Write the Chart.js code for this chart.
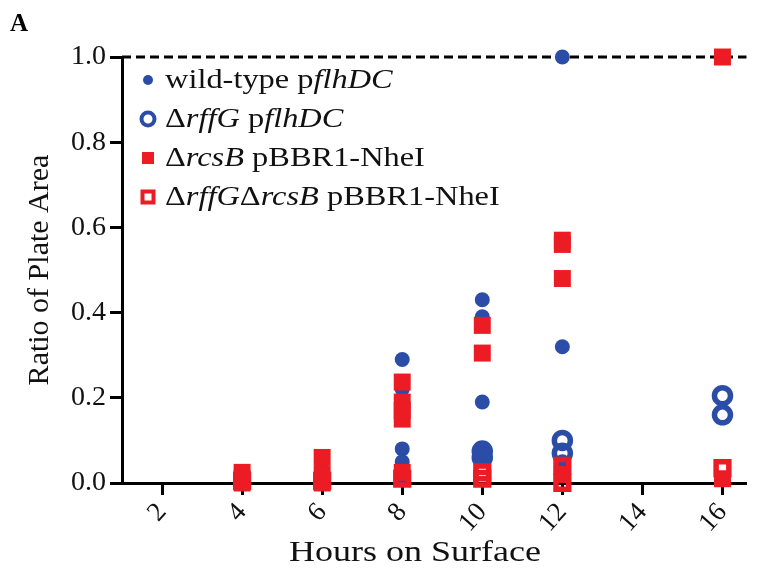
<!DOCTYPE html>
<html>
<head>
<meta charset="utf-8">
<script src="https://cdn.jsdelivr.net/npm/chart.js@4"></script>
<style>
  body { margin: 0; background: #fff; }
</style>
</head>
<body>
<canvas id="chartPic" width="761" height="573"></canvas>
<script>
// values
const xTicks = [2, 4, 6, 8, 10, 12, 14, 16];
const yTicks = [0, 0.2, 0.4, 0.6, 0.8, 1.0];

const wtHours  = [4, 6, 6, 8, 8, 8, 8, 8, 10, 10, 10, 10, 10, 12, 12, 12];
const wtRatio  = [0.0, 0.03, 0.01, 0.29, 0.22, 0.08, 0.05, 0.01, 0.43, 0.39, 0.19, 0.08, 0.06, 1.0, 0.32, 0.05];

const rffHours = [10, 10, 12, 12, 16, 16];
const rffRatio = [0.075, 0.06, 0.10, 0.07, 0.205, 0.16];

const rcsHours = [4, 4, 4, 6, 6, 6, 8, 8, 8, 8, 8, 10, 10, 12, 12, 12, 12, 16, 16];
const rcsRatio = [0.025, 0.01, 0.0, 0.06, 0.02, 0.0, 0.237, 0.19, 0.17, 0.15, 0.025, 0.37, 0.305, 0.57, 0.56, 0.48, 0.02, 1.0, 0.01];

const dblHours = [4, 6, 8, 10, 10, 12, 12, 16];
const dblRatio = [0.005, 0.005, 0.01, 0.025, 0.01, 0.04, 0.0, 0.035];

const fullLine = [1.0, 1.0];

const blue = '#2B4DA8';
const red = '#EC1C24';
const serif = "'Liberation Serif', 'DejaVu Serif', serif";

function pts(xs, ys) {
    return xs.map(function (x, i) { return {x: x, y: ys[i]}; });
}

const legendRows = [
    {style: 'dot', parts: [['wild-type p', 0], ['flhDC', 1]]},
    {style: 'ring', parts: [['\u0394', 0], ['rffG', 1], [' p', 0], ['flhDC', 1]]},
    {style: 'box', parts: [['\u0394', 0], ['rcsB', 1], [' pBBR1-NheI', 0]]},
    {style: 'openbox', parts: [['\u0394', 0], ['rffG', 1], ['\u0394', 0], ['rcsB', 1], [' pBBR1-NheI', 0]]}
];

// draws text a little wider than tall, like the figure
function wideText(ctx, parts, x, y, size, align) {
    ctx.save();
    ctx.textBaseline = 'middle';
    let total = 0;
    parts.forEach(function (p) {
        ctx.font = (p[1] ? 'italic ' : '') + size + 'px ' + serif;
        total += ctx.measureText(p[0]).width;
    });
    ctx.translate(x, y);
    ctx.scale(1.2, 1);
    let cx = align === 'center' ? -total / 2 : 0;
    parts.forEach(function (p) {
        ctx.font = (p[1] ? 'italic ' : '') + size + 'px ' + serif;
        ctx.fillText(p[0], cx, 0);
        cx += ctx.measureText(p[0]).width;
    });
    ctx.restore();
}

const legendPlugin = {
    id: 'richLegend',
    afterDraw: function (chart) {
        const ctx = chart.ctx;
        ctx.save();
        // panel letter
        ctx.fillStyle = '#000';
        ctx.font = 'bold 25px ' + serif;
        ctx.textBaseline = 'alphabetic';
        ctx.fillText('A', 10, 31);

        ctx.fillStyle = '#111';
        wideText(ctx, [['Hours on Surface', 0]], 415, 553, 30, 'center');

        const rowY = [80, 119, 158, 197];
        legendRows.forEach(function (row, i) {
            const y = rowY[i];
            const mx = 148;
            ctx.lineWidth = 4;
            if (row.style === 'dot') {
                ctx.fillStyle = blue;
                ctx.beginPath(); ctx.arc(mx, y, 5, 0, Math.PI * 2); ctx.fill();
            } else if (row.style === 'ring') {
                ctx.strokeStyle = blue;
                ctx.beginPath(); ctx.arc(mx, y, 6.5, 0, Math.PI * 2); ctx.stroke();
            } else if (row.style === 'box') {
                ctx.fillStyle = red;
                ctx.fillRect(mx - 6, y - 6, 12, 12);
            } else {
                ctx.strokeStyle = red;
                ctx.strokeRect(mx - 5.5, y - 5.5, 11, 11);
            }
            ctx.fillStyle = '#111';
            wideText(ctx, row.parts, 165, y + 1, 27, 'left');
        });
        ctx.restore();
    }
};

const ctx = document.getElementById('chartPic');
const myChart = new Chart(ctx, {
    type: 'scatter',
    data: {
        datasets: [
            {
                label: '\u0394rffG\u0394rcsB pBBR1-NheI',
                data: pts(dblHours, dblRatio),
                pointStyle: 'rect',
                pointRadius: 9,
                pointHoverRadius: 9,
                backgroundColor: 'rgba(0,0,0,0)',
                borderColor: red,
                borderWidth: 5.5,
                order: 0
            },
            {
                label: '\u0394rcsB pBBR1-NheI',
                data: pts(rcsHours, rcsRatio),
                pointStyle: 'rect',
                pointRadius: 12,
                pointHoverRadius: 12,
                backgroundColor: red,
                borderColor: red,
                borderWidth: 0,
                order: 1
            },
            {
                label: '\u0394rffG pflhDC',
                data: pts(rffHours, rffRatio),
                pointStyle: 'circle',
                pointRadius: 8,
                pointHoverRadius: 8,
                backgroundColor: 'rgba(0,0,0,0)',
                borderColor: blue,
                borderWidth: 5.5,
                order: 2
            },
            {
                label: 'wild-type pflhDC',
                data: pts(wtHours, wtRatio),
                pointStyle: 'circle',
                pointRadius: 7.5,
                pointHoverRadius: 7.5,
                backgroundColor: blue,
                borderColor: blue,
                borderWidth: 0,
                order: 3
            },
            {
                type: 'line',
                label: 'max',
                data: pts([1, 16.6], fullLine),
                borderColor: '#000',
                borderWidth: 3,
                borderDash: [9, 5],
                pointRadius: 0,
                order: 4
            }
        ]
    },
    options: {
        responsive: false,
        animation: false,
        layout: {
            padding: {top: 57, right: 4, left: 0, bottom: 0}
        },
        scales: {
            x: {
                type: 'linear',
                min: 1,
                max: 16.6,
                afterBuildTicks: function (scale) {
                    scale.ticks = xTicks.map(function (v) { return {value: v}; });
                },
                afterFit: function (scale) {
                    scale.height = 90;
                },
                border: {color: '#000', width: 3},
                grid: {
                    drawOnChartArea: false,
                    drawTicks: true,
                    tickLength: 12,
                    tickWidth: 3,
                    tickColor: '#000'
                },
                ticks: {
                    minRotation: 48,
                    maxRotation: 48,
                    padding: 2,
                    color: '#111',
                    font: {size: 27, family: serif}
                }
            },
            y: {
                min: 0,
                max: 1,
                afterBuildTicks: function (scale) {
                    scale.ticks = yTicks.map(function (v) { return {value: v}; });
                },
                afterFit: function (scale) {
                    scale.width = 122;
                },
                border: {color: '#000', width: 3},
                grid: {
                    drawOnChartArea: false,
                    drawTicks: true,
                    tickLength: 12,
                    tickWidth: 3,
                    tickColor: '#000'
                },
                ticks: {
                    padding: 4,
                    color: '#111',
                    font: {size: 28, family: serif},
                    callback: function (value) {
                        return value.toFixed(1);
                    }
                },
                title: {
                    display: true,
                    text: 'Ratio of Plate Area',
                    color: '#111',
                    padding: {top: 22, bottom: 0},
                    font: {size: 30, family: serif}
                }
            }
        },
        clip: false,
        plugins: {
            legend: {display: false},
            tooltip: {enabled: false}
        }
    },
    plugins: [legendPlugin]
});
</script>
</body>
</html>
